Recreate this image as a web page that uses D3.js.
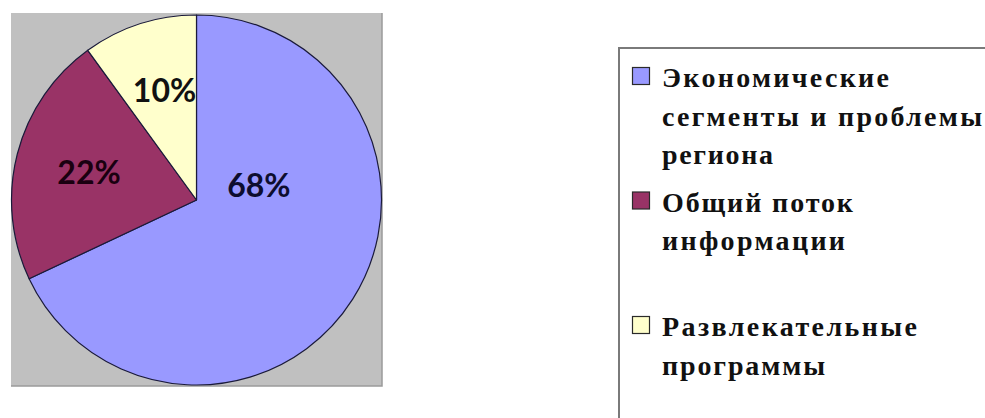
<!DOCTYPE html>
<html>
<head>
<meta charset="utf-8">
<script src="https://cdn.jsdelivr.net/npm/d3@7"></script>
<style>
  html, body { margin: 0; padding: 0; background: #ffffff; }
  svg { display: block; }
</style>
</head>
<body>
<svg id="chart" width="985" height="418"></svg>
<script>
// ---- data ----
const categories = [
  ["Экономические", "сегменты и проблемы", "региона"],
  ["Общий поток", "информации"],
  ["Развлекательные", "программы"]
];
const values = [68, 22, 10];
const valueLabels = ["68%", "22%", "10%"];
const colors = ["#9999ff", "#993366", "#ffffcc"];

// ---- layout ----
const svg = d3.select("#chart");
const W = 985, H = 418;
const plot = { x: 11, y: 13, w: 371, h: 373 };
const cx = 196.5, cy = 200, R = 185;

// plot area
svg.append("rect")
  .attr("x", plot.x).attr("y", plot.y)
  .attr("width", plot.w).attr("height", plot.h)
  .attr("fill", "#c0c0c0");
svg.append("path")
  .attr("d", `M${plot.x + plot.w},${plot.y} V${plot.y + plot.h} H${plot.x}`)
  .attr("fill", "none").attr("stroke", "#9a9a9a").attr("stroke-width", 1.5);

const pie = d3.pie().sort(null).value(d => d).startAngle(0).endAngle(2 * Math.PI);
const arcs = pie(values);
const arc = d3.arc().innerRadius(0).outerRadius(R);

const g = svg.append("g").attr("transform", `translate(${cx},${cy})`);
g.selectAll("path.slice")
  .data(arcs)
  .join("path")
  .attr("class", "slice")
  .attr("d", arc)
  .attr("fill", (d, i) => colors[i])
  .attr("stroke", "#1a1a3a")
  .attr("stroke-width", 1.2)
  .attr("stroke-linejoin", "round");

// label placement (angle offset in radians relative to slice middle, and radius)
const labelPlacement = [
  { da: -0.79, r: 64 },
  { da: 0.0, r: 111 },
  { da: 0.03, r: 114 }
];
const labelColors = ["#0d0d2e", "#1a0010", "#111111"];
g.selectAll("text.lbl")
  .data(arcs)
  .join("text")
  .attr("class", "lbl")
  .attr("transform", (d, i) => {
    const a = (d.startAngle + d.endAngle) / 2 + labelPlacement[i].da;
    const r = labelPlacement[i].r;
    return `translate(${r * Math.sin(a)},${-r * Math.cos(a)})`;
  })
  .attr("text-anchor", "middle")
  .attr("dy", "0.36em")
  .attr("font-family", "Lato, 'Open Sans', sans-serif")
  .attr("font-weight", "bold")
  .attr("font-size", 32)
  .attr("fill", (d, i) => labelColors[i])
  .text((d, i) => valueLabels[i]);

// legend
const legend = { x: 619, y: 48 };
svg.append("rect")
  .attr("x", legend.x).attr("y", legend.y)
  .attr("width", W - legend.x + 10).attr("height", H - legend.y + 10)
  .attr("fill", "#ffffff")
  .attr("stroke", "#7a7a7a").attr("stroke-width", 2);

const lineWidths = [[227, 320, 111], [191, 183], [255, 163]];
const firstBaseline = 87, itemStep = 124.5, lineStep = 38.5;
const lg = svg.append("g");
categories.forEach((lines, i) => {
  const by = firstBaseline + i * itemStep;
  lg.append("rect")
    .attr("x", 632.5).attr("y", by - 19.5)
    .attr("width", 17).attr("height", 17)
    .attr("fill", colors[i])
    .attr("stroke", "#2a2a2a").attr("stroke-width", 1.2);
  lines.forEach((t, j) => {
    lg.append("text")
      .attr("x", 662).attr("y", by + j * lineStep)
      .attr("font-family", "'Liberation Serif', 'Times New Roman', serif")
      .attr("font-weight", "bold")
      .attr("font-size", 28)
      .attr("fill", "#111111")
      .attr("textLength", lineWidths[i][j])
      .attr("lengthAdjust", "spacing")
      .text(t);
  });
});
</script>
</body>
</html>
